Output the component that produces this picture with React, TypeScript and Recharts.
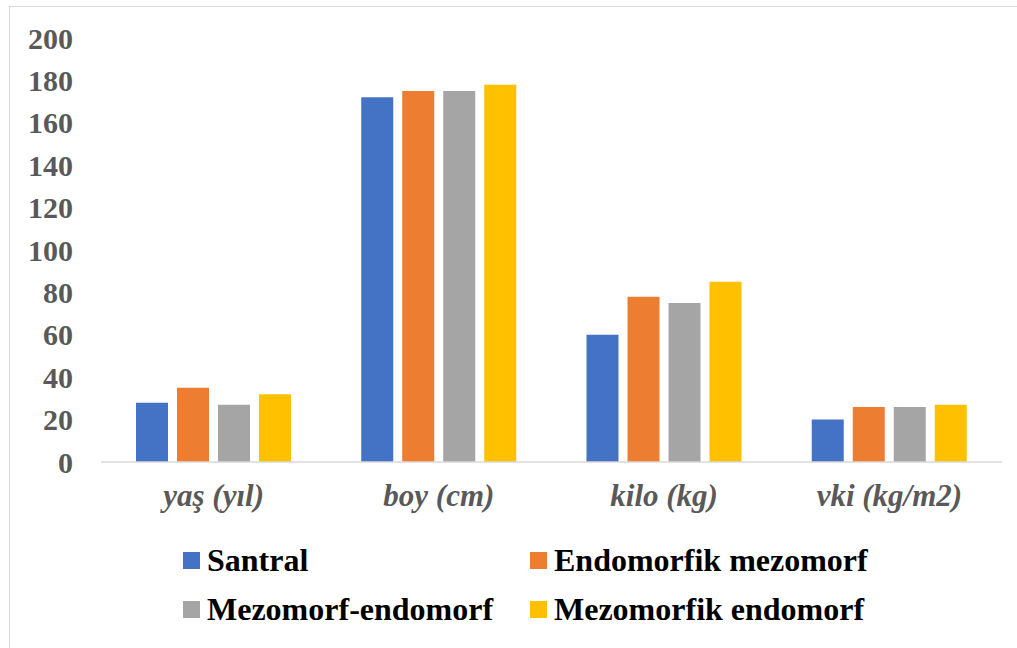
import React from "react";
import { BarChart, Bar, XAxis, YAxis, Legend } from "recharts";

const categories = ["yaş (yıl)", "boy (cm)", "kilo (kg)", "vki (kg/m2)"];
const santral = [28, 172, 60, 20];
const endomorfikMezomorf = [35, 175, 78, 26];
const mezomorfEndomorf = [27, 175, 75, 26];
const mezomorfikEndomorf = [32, 178, 85, 27];
const yTicks = [0, 20, 40, 60, 80, 100, 120, 140, 160, 180, 200];

const seriesDefs = [
  { key: "s1", name: "Santral", color: "#4472C4", values: santral },
  { key: "s2", name: "Endomorfik mezomorf", color: "#ED7D31", values: endomorfikMezomorf },
  { key: "s3", name: "Mezomorf-endomorf", color: "#A5A5A5", values: mezomorfEndomorf },
  { key: "s4", name: "Mezomorfik endomorf", color: "#FFC000", values: mezomorfikEndomorf },
];

const data = categories.map((c, i) => {
  const row: Record<string, any> = { category: c };
  seriesDefs.forEach((s) => (row[s.key] = s.values[i]));
  return row;
});

const FONT = "'Times New Roman', Times, Tinos, 'Nimbus Roman', 'Liberation Serif', 'DejaVu Serif', 'Noto Serif', serif";

const renderLegend = () => {
  const cols = [183, 530];
  const rows = [560, 609];
  return (
    <div style={{ position: "relative", width: 1017, height: 110 }}>
      {seriesDefs.map((s, i) => {
        const col = cols[i % 2];
        const row = rows[Math.floor(i / 2)] - 540;
        return (
          <div
            key={s.key}
            style={{
              position: "absolute",
              left: col,
              top: row - 20,
              height: 40,
              display: "flex",
              alignItems: "center",
              whiteSpace: "nowrap",
            }}
          >
            <span
              style={{
                display: "inline-block",
                width: 17,
                height: 17,
                background: s.color,
                marginRight: 7,
              }}
            />
            <span
              style={{
                fontFamily: FONT,
                fontWeight: "bold",
                fontSize: 32,
                color: "#000",
                lineHeight: "40px",
              }}
            >
              {s.name}
            </span>
          </div>
        );
      })}
    </div>
  );
};

export default function App() {
  return (
    <div
      style={{
        position: "absolute",
        left: 0,
        top: 0,
        width: 1017,
        height: 648,
        overflow: "hidden",
        background: "#fff",
        fontFamily: FONT,
      }}
    >
      <div
        style={{
          position: "absolute",
          left: 9,
          top: 6,
          width: 1100,
          height: 700,
          border: "1.5px solid #d9d9d9",
          boxSizing: "border-box",
        }}
      />
      <div style={{ position: "absolute", left: 0, top: 0 }}>
        <BarChart
          width={1017}
          height={648}
          data={data}
          margin={{ top: 38, right: 15, left: 0, bottom: 126 }}
          barSize={32}
          barGap={9}
          style={{ fontFamily: FONT }}
        >
          <XAxis
            dataKey="category"
            height={60}
            tickLine={false}
            tickSize={0}
            tickMargin={22}
            axisLine={{ stroke: "#d9d9d9", strokeWidth: 1.5 }}
            tick={{
              fill: "#595959",
              fontFamily: FONT,
              fontWeight: "bold",
              fontStyle: "italic",
              fontSize: 31,
            }}
            interval={0}
          />
          <YAxis
            width={101}
            domain={[0, 200]}
            ticks={yTicks}
            interval={0}
            axisLine={false}
            tickLine={false}
            tickSize={0}
            tickMargin={28}
            tick={{
              fill: "#595959",
              fontFamily: FONT,
              fontWeight: "bold",
              fontSize: 30,
            }}
          />
          <Legend
            layout="horizontal"
            verticalAlign="middle"
            align="center"
            content={renderLegend}
            wrapperStyle={{ position: "absolute", left: 0, top: 540, width: 1017, height: 110 }}
          />
          {seriesDefs.map((s) => (
            <Bar key={s.key} dataKey={s.key} name={s.name} fill={s.color} isAnimationActive={false} />
          ))}
        </BarChart>
      </div>
    </div>
  );
}
